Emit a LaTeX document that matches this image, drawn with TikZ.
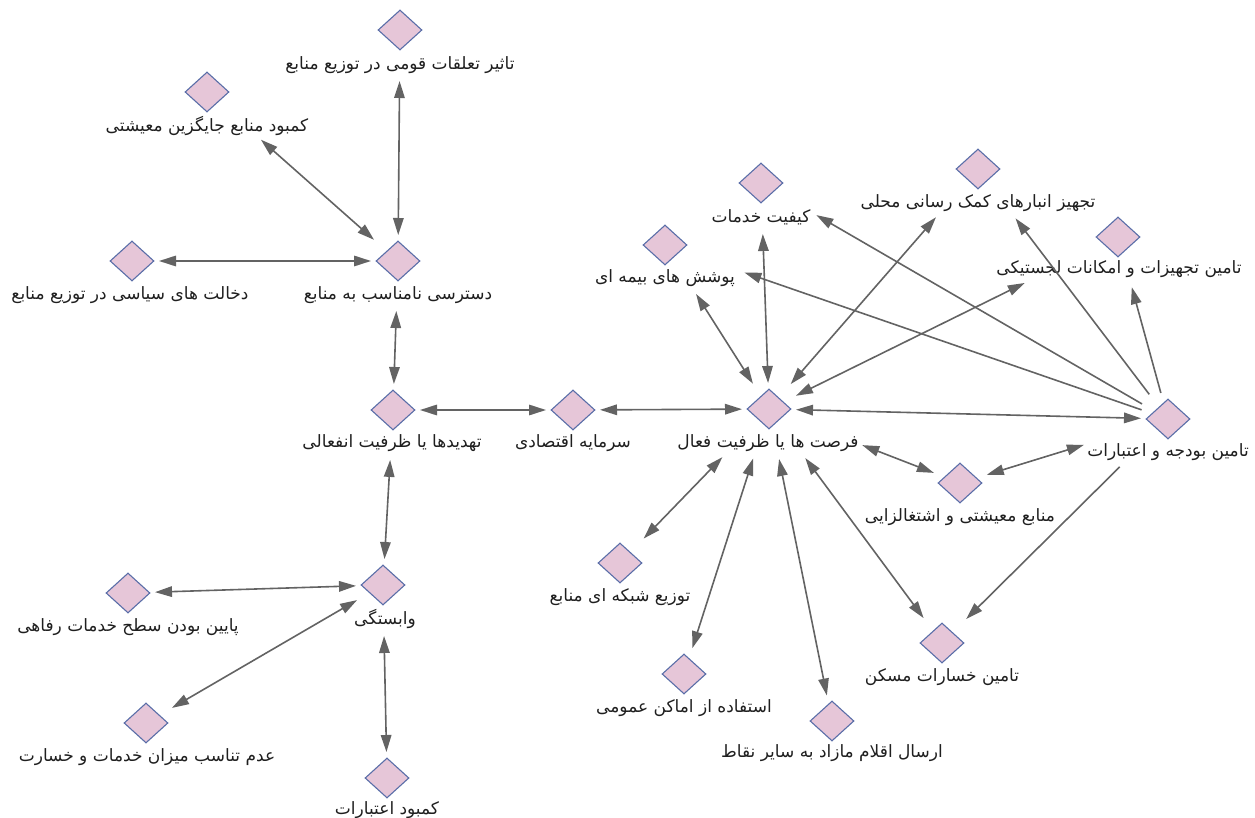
\documentclass[tikz,border=0pt]{standalone}
\usepackage{fontspec}
\newfontfamily\arabicfont[Script=Arabic]{DejaVu Sans}
\TeXXeTstate=1
\usetikzlibrary{shapes.geometric,arrows.meta}
\definecolor{dfill}{HTML}{E6C6D8}
\definecolor{dborder}{HTML}{5A6EA8}
\definecolor{edgec}{HTML}{636363}
\tikzset{
  dia/.style={diamond, draw=dborder, fill=dfill, line width=1.1pt, minimum width=44pt, minimum height=40pt, inner sep=0pt},
  lab/.style={font=\arabicfont\fontsize{17}{19}\selectfont, inner sep=0pt, text=black!88},
  conn/.style={draw=edgec, line width=1.6pt},
  tip/.tip={Triangle[length=17pt,width=10.5pt]},
  bi/.style={conn, tip-tip},
  uni/.style={conn, -tip}
}
\begin{document}
\begin{tikzpicture}[x=1pt,y=-1pt]
\useasboundingbox (0,0) rectangle (1255,818);
% diamonds
\node[dia] (T)  at (400,30)  {};
\node[dia] (J)  at (207,92)  {};
\node[dia] (Dk) at (132,261) {};
\node[dia] (Ds) at (398,261) {};
\node[dia] (Th) at (393,410) {};
\node[dia] (S)  at (573,410) {};
\node[dia] (F)  at (769,409) {};
\node[dia] (V)  at (383,585) {};
\node[dia] (P)  at (128,593) {};
\node[dia] (A)  at (146,723) {};
\node[dia] (KE) at (387,778) {};
\node[dia] (TS) at (620,563) {};
\node[dia] (E)  at (684,674) {};
\node[dia] (Er) at (832,721) {};
\node[dia] (Kh) at (942,643) {};
\node[dia] (M)  at (960,483) {};
\node[dia] (B)  at (1168,419) {};
\node[dia] (Kf) at (761,183) {};
\node[dia] (Ta) at (978,169) {};
\node[dia] (Tt) at (1118,237) {};
\node[dia] (Po) at (665,245) {};
% labels
\node[lab] (T-l)  at (400,65)  {\beginR تاثیر تعلقات قومی در توزیع منابع\endR};
\node[lab] (J-l)  at (207,126) {\beginR کمبود منابع جایگزین معیشتی\endR};
\node[lab] (Dk-l) at (130,295) {\beginR دخالت های سیاسی در توزیع منابع\endR};
\node[lab] (Ds-l) at (398,295) {\beginR دسترسی نامناسب به منابع\endR};
\node[lab] (Th-l) at (392,443) {\beginR تهدیدها یا ظرفیت انفعالی\endR};
\node[lab] (S-l)  at (573,443) {\beginR سرمایه اقتصادی\endR};
\node[lab] (F-l)  at (768,443) {\beginR فرصت ها یا ظرفیت فعال\endR};
\node[lab] (V-l)  at (385,619) {\beginR وابستگی\endR};
\node[lab] (P-l)  at (128,627) {\beginR پایین بودن سطح خدمات رفاهی\endR};
\node[lab] (A-l)  at (147,757) {\beginR عدم تناسب میزان خدمات و خسارت\endR};
\node[lab] (KE-l) at (387,810) {\beginR کمبود اعتبارات\endR};
\node[lab] (TS-l) at (620,597) {\beginR توزیع شبکه ای منابع\endR};
\node[lab] (E-l)  at (684,708) {\beginR استفاده از اماکن عمومی\endR};
\node[lab] (Er-l) at (832,753) {\beginR ارسال اقلام مازاد به سایر نقاط\endR};
\node[lab] (Kh-l) at (942,677) {\beginR تامین خسارات مسکن\endR};
\node[lab] (M-l)  at (960,517) {\beginR منابع معیشتی و اشتغالزایی\endR};
\node[lab] (B-l)  at (1168,452) {\beginR تامین بودجه و اعتبارات\endR};
\node[lab] (Kf-l) at (761,217) {\beginR کیفیت خدمات\endR};
\node[lab] (Ta-l) at (978,203) {\beginR تجهیز انبارهای کمک رسانی محلی\endR};
\node[lab] (Tt-l) at (1119,269) {\beginR تامین تجهیزات و امکانات لجستیکی\endR};
\node[lab] (Po-l) at (665,278) {\beginR پوشش های بیمه ای\endR};
% connectors
\draw[bi, shorten <=51pt, shorten >=26pt] (T.center) -- (Ds.center);
\draw[bi, shorten <=72pt, shorten >=32pt] (J.center) -- (Ds.center);
\draw[bi, shorten <=27pt, shorten >=27pt] (Dk.center) -- (Ds.center);
\draw[bi, shorten <=50pt, shorten >=26pt] (Ds.center) -- (Th.center);
\draw[bi, shorten <=27pt, shorten >=27pt] (Th.center) -- (S.center);
\draw[bi, shorten <=27pt, shorten >=27pt] (S.center) -- (F.center);
\draw[bi, shorten <=50pt, shorten >=26pt] (Th.center) -- (V.center);
\draw[bi, shorten <=27pt, shorten >=27pt] (V.center) -- (P.center);
\draw[bi, shorten <=30pt, shorten >=30pt] (V.center) -- (A.center);
\draw[bi, shorten <=51pt, shorten >=26pt] (V.center) -- (KE.center);
\draw[bi, shorten <=30pt, shorten >=58pt] (F.center) -- (Po.center);
\draw[bi, shorten <=26pt, shorten >=51pt] (F.center) -- (Kf.center);
\draw[bi, shorten <=33pt, shorten >=64pt] (F.center) -- (Ta.center);
\draw[bi, shorten <=30pt, shorten >=104pt] (F.center) -- (Tt.center);
\draw[bi, shorten <=27pt, shorten >=27pt] (F.center) -- (B.center);
\draw[bi, shorten <=100pt, shorten >=28pt] (F.center) -- (M.center);
\draw[bi, shorten <=28pt, shorten >=88pt] (M.center) -- (B.center);
\draw[uni, shorten <=30pt, shorten >=64pt] (B.center) -- (Kf.center);
\draw[uni, shorten <=28pt, shorten >=84pt] (B.center) -- (Po.center);
\draw[uni, shorten <=31pt, shorten >=62pt] (B.center) -- (Ta.center);
\draw[uni, shorten <=27pt, shorten >=52pt] (B.center) -- (Tt.center);
\draw[uni, shorten <=68pt, shorten >=34pt] (B.center) -- (Kh.center);
\draw[bi, shorten <=61pt, shorten >=31pt] (F.center) -- (Kh.center);
\draw[bi, shorten <=51pt, shorten >=26pt] (F.center) -- (Er.center);
\draw[bi, shorten <=52pt, shorten >=27pt] (F.center) -- (E.center);
\draw[bi, shorten <=67pt, shorten >=34pt] (F.center) -- (TS.center);
\end{tikzpicture}
\end{document}
